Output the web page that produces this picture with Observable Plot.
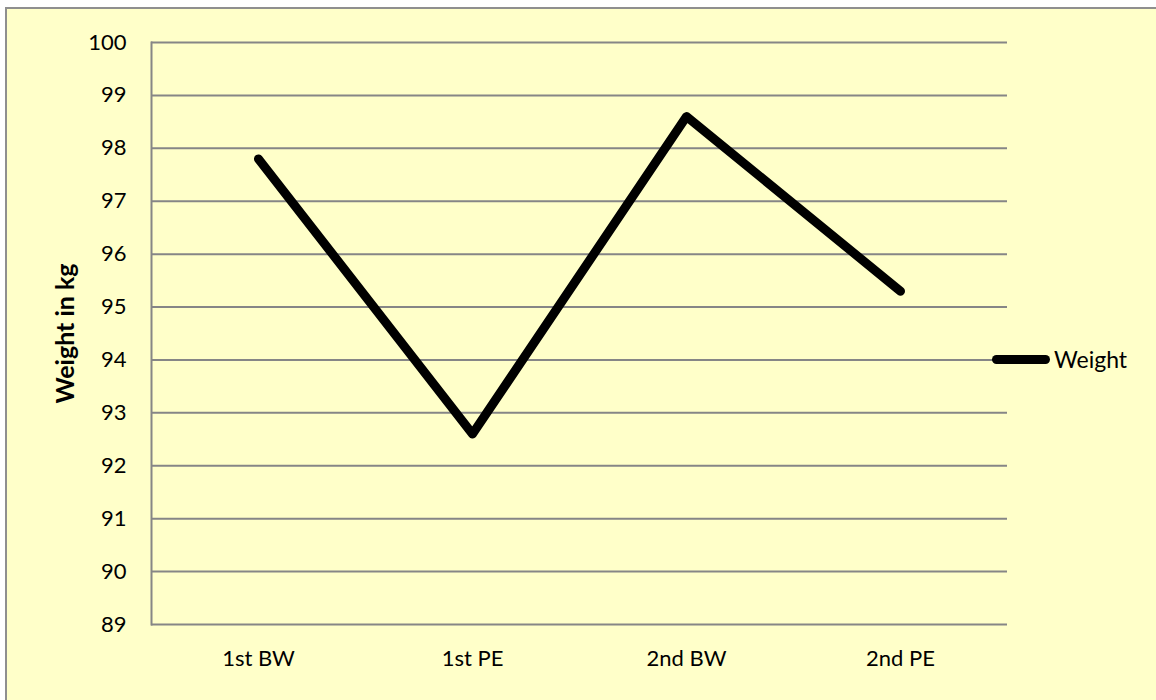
<!DOCTYPE html>
<html>
<head>
<meta charset="utf-8">
<script src="https://cdn.jsdelivr.net/npm/d3@7"></script>
<script src="https://cdn.jsdelivr.net/npm/@observablehq/plot@0.6"></script>
<style>
  html, body { margin: 0; padding: 0; background: #ffffff; }
  body { width: 1156px; height: 700px; position: relative; overflow: hidden; font-family: Lato, "Open Sans", sans-serif; }
  #frame { position: absolute; left: 5px; top: 7px; width: 1160px; height: 710px; background: #FFFFC9; border: 2px solid #8f8f8f; box-sizing: border-box; }
  #chart { position: absolute; left: 0; top: 0; }
  #chart svg { background: transparent; }
  #chart g[aria-label="y-axis label"] text { font-weight: bold; font-size: 25px; }
  #legend { position: absolute; left: 992px; top: 359px; transform: translateY(-50%); display: flex; align-items: center; font-size: 23px; color: #000; }
  #legend .sw { width: 58px; height: 9px; background: #000; border-radius: 5px; margin-right: 4px; }
</style>
</head>
<body>
<div id="frame"></div>
<div id="chart"></div>
<div id="legend"><span class="sw"></span><span id="legend-label"></span></div>
<script>
const categories = ["1st BW", "1st PE", "2nd BW", "2nd PE"];
const weights = [97.8, 92.6, 98.6, 95.3];
const yTicks = [89, 90, 91, 92, 93, 94, 95, 96, 97, 98, 99, 100];
const seriesName = "Weight";
const yLabel = "Weight in kg";

const data = categories.map((c, i) => ({category: c, weight: weights[i]}));

const chart = Plot.plot({
  width: 1156,
  height: 700,
  marginLeft: 151,
  marginRight: 149,
  marginTop: 42,
  marginBottom: 76,
  style: {background: "transparent", fontFamily: "Lato, 'Open Sans', sans-serif", fontSize: "22px", color: "#000"},
  x: {type: "point", domain: categories, padding: 0.5},
  y: {domain: [89, 100]},
  marks: [
    Plot.ruleY(yTicks, {stroke: "#868686", strokeWidth: 2}),
    Plot.frame({anchor: "left", stroke: "#868686", strokeWidth: 2}),
    Plot.axisY({ticks: yTicks, tickSize: 0, tickPadding: 25, fontSize: 22, label: yLabel, labelAnchor: "center", labelArrow: "none", labelOffset: 95}),
    Plot.axisX({tickSize: 0, tickPadding: 26, fontSize: 22, label: null}),
    Plot.line(data, {x: "category", y: "weight", stroke: "#000", strokeWidth: 9, strokeLinecap: "round", strokeLinejoin: "round"})
  ]
});
document.getElementById("chart").appendChild(chart);
document.getElementById("legend-label").textContent = seriesName;
</script>
</body>
</html>
